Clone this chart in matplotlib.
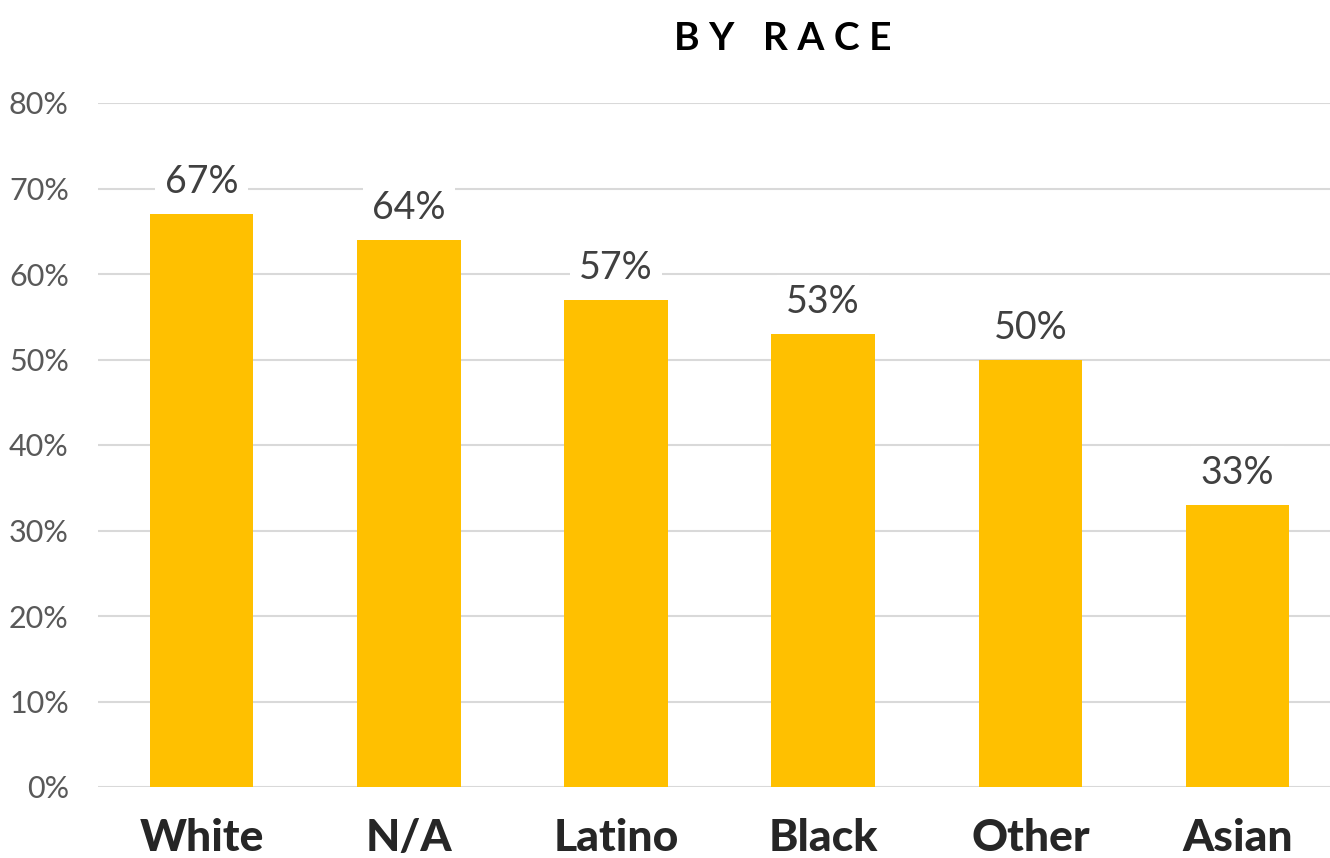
import matplotlib
matplotlib.use("Agg")
from matplotlib import pyplot as plt
from matplotlib.ticker import PercentFormatter

groups = ["White", "N/A", "Latino", "Black", "Other", "Asian"]
shares = [0.67, 0.64, 0.57, 0.53, 0.50, 0.33]
yticks = [0, 0.1, 0.2, 0.3, 0.4, 0.5, 0.6, 0.7, 0.8]

plt.rcParams["font.family"] = ["Lato", "DejaVu Sans"]

fig = plt.figure(figsize=(13.3, 8.58), dpi=100)
ax = fig.add_axes([98 / 1330, 1 - 787 / 858, 1 - 98 / 1330, (787 - 103) / 858])

x = range(len(groups))
ax.bar(x, shares, width=0.5, color="#FFC000", zorder=2)

# value labels sit on white boxes that break the gridlines
for xi, v in zip(x, shares):
    ax.text(xi, v + 0.016, "%d%%" % round(v * 100), ha="center", va="bottom",
            fontsize=27, color="#404040", zorder=3,
            bbox=dict(boxstyle="square,pad=0.25", fc="white", ec="none"))

ax.set_ylim(0, 0.8)
ax.set_xlim(-0.5, 5.446)
ax.set_yticks(yticks)
ax.yaxis.set_major_formatter(PercentFormatter(1.0, decimals=0))
ax.grid(axis="y", color="#D9D9D9", linewidth=1.5, zorder=0)
ax.set_axisbelow(True)
for s in ax.spines.values():
    s.set_visible(False)
ax.axhline(0, color="#D9D9D9", linewidth=2, zorder=1)

ax.set_xticks(list(x))
ax.set_xticklabels(groups, fontsize=32, fontweight="black", color="#262626")
ax.tick_params(axis="x", length=0, pad=22)
ax.tick_params(axis="y", length=0, pad=21, labelsize=22, labelcolor="#595959")

fig.text(783 / 1330, 1 - 38 / 858, "B Y   R A C E", ha="center", va="center",
         fontsize=28, fontweight="bold", color="black")

fig.savefig("out.png", dpi=100)
